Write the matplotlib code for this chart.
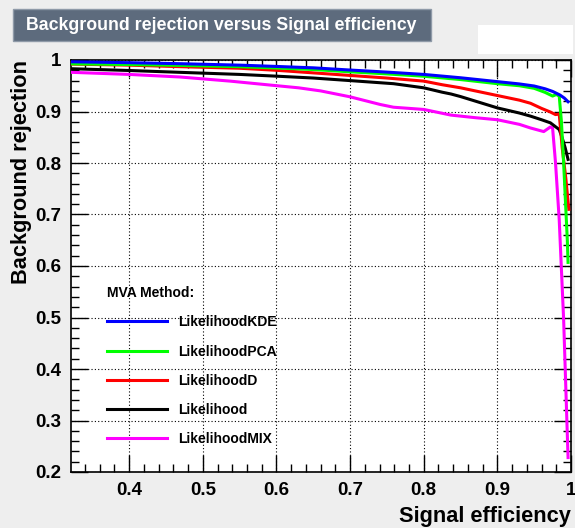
import matplotlib.pyplot as plt
from matplotlib.patches import Rectangle
from matplotlib.ticker import MultipleLocator, FuncFormatter

plt.rcParams['font.family'] = ['Liberation Sans', 'DejaVu Sans']
plt.rcParams['font.weight'] = 'bold'

# ROC curves
eff_kde = [0.323, 0.40, 0.47, 0.55, 0.60, 0.65, 0.70, 0.75, 0.80, 0.85, 0.90, 0.93, 0.95, 0.965, 0.975, 0.985, 0.991, 0.996]
rej_kde = [0.9965, 0.9948, 0.9928, 0.990, 0.9875, 0.9848, 0.9805, 0.9765, 0.972, 0.9655, 0.958, 0.9535, 0.9495, 0.944, 0.939, 0.932, 0.926, 0.919]

eff_pca = [0.323, 0.40, 0.47, 0.55, 0.60, 0.65, 0.70, 0.75, 0.80, 0.85, 0.90, 0.93, 0.95, 0.965, 0.975, 0.980, 0.984, 0.987, 0.990, 0.995, 0.996]
rej_pca = [0.9925, 0.9912, 0.9895, 0.987, 0.9845, 0.9815, 0.977, 0.973, 0.9685, 0.962, 0.954, 0.950, 0.945, 0.937, 0.930, 0.933, 0.930, 0.88, 0.80, 0.65, 0.607]

eff_d = [0.323, 0.40, 0.47, 0.55, 0.60, 0.65, 0.70, 0.75, 0.80, 0.825, 0.85, 0.90, 0.93, 0.945, 0.96, 0.972, 0.979, 0.984, 0.988, 0.993, 0.997]
rej_d = [0.992, 0.990, 0.987, 0.984, 0.980, 0.975, 0.970, 0.965, 0.959, 0.952, 0.946, 0.931, 0.922, 0.916, 0.906, 0.899, 0.894, 0.895, 0.83, 0.77, 0.71]

eff_lik = [0.323, 0.40, 0.47, 0.55, 0.60, 0.65, 0.70, 0.759, 0.80, 0.825, 0.837, 0.85, 0.90, 0.93, 0.945, 0.96, 0.972, 0.984, 0.988, 0.992, 0.996]
rej_lik = [0.983, 0.9796, 0.976, 0.972, 0.9686, 0.965, 0.960, 0.954, 0.946, 0.9375, 0.934, 0.929, 0.907, 0.897, 0.891, 0.884, 0.878, 0.865, 0.849, 0.83, 0.807]

eff_mix = [0.323, 0.40, 0.469, 0.537, 0.601, 0.63, 0.66, 0.70, 0.741, 0.759, 0.80, 0.837, 0.87, 0.90, 0.93, 0.945, 0.963, 0.972, 0.975, 0.979, 0.984, 0.99, 0.996]
rej_mix = [0.976, 0.972, 0.967, 0.959, 0.950, 0.946, 0.940, 0.9285, 0.9136, 0.9083, 0.904, 0.893, 0.888, 0.884, 0.875, 0.868, 0.861, 0.870, 0.868, 0.80, 0.69, 0.496, 0.228]

methods = ['LikelihoodKDE', 'LikelihoodPCA', 'LikelihoodD', 'Likelihood', 'LikelihoodMIX']
colors = ['#0000FF', '#00FF00', '#FF0000', '#000000', '#FF00FF']
curves = [(eff_kde, rej_kde), (eff_pca, rej_pca), (eff_d, rej_d), (eff_lik, rej_lik), (eff_mix, rej_mix)]
zorders = [7, 6, 5, 4, 3]

fig = plt.figure(figsize=(5.75, 5.28), dpi=100, facecolor='#EEEEEE')
ax = fig.add_axes([71/575, 1-472/528, 500/575, 412/528])
ax.set_facecolor('white')

for name, col, (x, y), z in zip(methods, colors, curves, zorders):
    ax.plot(x, y, color=col, lw=2.2, label=name, zorder=z)

ax.set_xlim(0.321, 1.0)
ax.set_ylim(0.2, 1.0)
ax.xaxis.set_major_locator(MultipleLocator(0.1))
ax.xaxis.set_minor_locator(MultipleLocator(0.02))
ax.yaxis.set_major_locator(MultipleLocator(0.1))
ax.yaxis.set_minor_locator(MultipleLocator(0.02))
fmt = FuncFormatter(lambda v, p: '%g' % round(v, 2))
ax.xaxis.set_major_formatter(fmt)
ax.yaxis.set_major_formatter(fmt)
ax.tick_params(which='both', direction='in', top=True, right=True, width=1)
ax.tick_params(which='major', length=12, labelsize=13.5, pad=7)
ax.tick_params(which='minor', length=6)
ax.grid(True, which='major', color='black', lw=0.8, ls=(0, (1, 2)))
for s in ax.spines.values():
    s.set_linewidth(1.2)

ax.set_xlabel('Signal efficiency', loc='right', fontsize=15.7, fontweight='bold', labelpad=5)
ax.set_ylabel('Background rejection', loc='top', fontsize=15.7, fontweight='bold', labelpad=2)

leg = ax.legend(title='MVA Method:', loc='upper left', bbox_to_anchor=(100/575, 1-279/528),
                bbox_transform=fig.transFigure, frameon=False, fontsize=10,
                title_fontproperties={'weight': 'bold', 'size': 10},
                handlelength=4.3, handletextpad=0.85, labelspacing=1.1, borderpad=0,
                alignment='left')
for h in leg.get_lines():
    h.set_linewidth(2.2)

# title box and empty box at top
fig.patches.append(Rectangle((13/575, 1-41/528), 418/575, 32/528, transform=fig.transFigure,
                             facecolor='#5D6B7D', edgecolor='#8F9AA8', lw=1))
fig.text(26/575, 1-25/528, 'Background rejection versus Signal efficiency', color='white',
         fontsize=12.8, fontweight='bold', va='center', ha='left')
fig.patches.append(Rectangle((478/575, 1-54/528), 95/575, 29/528, transform=fig.transFigure,
                             facecolor='white', edgecolor='none'))

fig.savefig('out.png', dpi=100, facecolor=fig.get_facecolor())
